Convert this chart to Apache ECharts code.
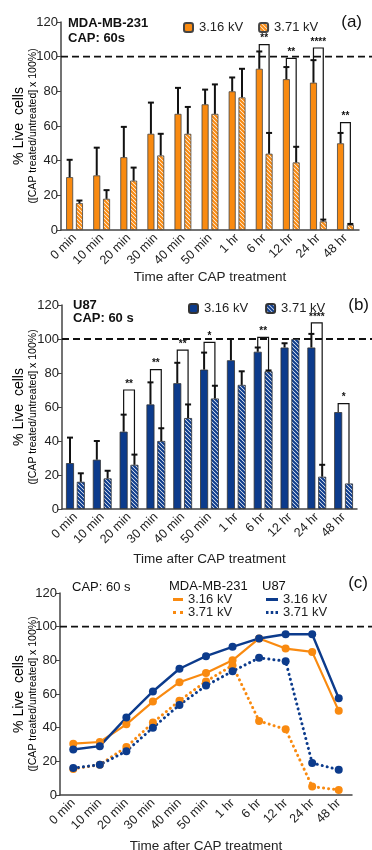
<!DOCTYPE html>
<html lang="en">
<head>
    <meta charset="UTF-8">
    <title>CAP live cells</title>
    <script src="https://cdn.jsdelivr.net/npm/echarts@6/dist/echarts.min.js"></script>
</head>
<body style="margin:0;background:#fff">
<div id="chart" style="width:372px;height:850px"></div>
<script>
    // time points
    var cats = ['0 min', '10 min', '20 min', '30 min', '40 min', '50 min', '1 hr', '6 hr', '12 hr', '24 hr', '48 hr'];
    var yTicks = [0, 20, 40, 60, 80, 100, 120];

    // (a) MDA-MB-231 bars, mean and sd
    var mdaLow = [30.5, 31.5, 42, 55.5, 67, 72.5, 80, 93, 87, 85, 50];
    var mdaLowSd = [10, 16, 17.5, 18, 15, 8.5, 8, 10, 7, 13, 6];
    var mdaHigh = [15.5, 18, 28.5, 43, 55.5, 67, 76.5, 44, 39, 5, 3];
    var mdaHighSd = [1.5, 5, 7.5, 12.5, 15.5, 17, 16.5, 12, 9, 1, 0.5];
    // [category, bracket height, stars]
    var sigA = [[7, 107, '**'], [8, 99, '**'], [9, 105, '****'], [10, 62, '**']];

    // (b) U87 bars
    var u87Low = [27, 29, 45.5, 61.5, 74, 82, 87.5, 92.5, 95, 95, 57];
    var u87LowSd = [15, 11, 10, 13, 12, 10, 12.5, 2.5, 2.5, 8, 0];
    var u87High = [16, 18, 26, 40, 53.5, 65, 73, 81, 100, 19, 15];
    var u87HighSd = [5, 4.5, 6, 7.5, 8, 7.5, 8, 0.5, 0, 7, 0];
    var sigB = [[2, 70, '**'], [3, 82, '**'], [4, 93.5, '**'], [5, 98, '*'], [7, 101, '**'], [9, 109.5, '****'], [10, 62, '*']];

    // (c) lines
    var lineMdaLow = [30.5, 31.5, 42, 55.5, 67, 72.5, 80, 93, 87, 85, 50];
    var lineMdaHigh = [15.5, 18, 28.5, 43, 56, 67.5, 77, 44, 39, 5, 3];
    var lineU87Low = [27, 29, 46, 61.5, 75, 82.5, 88, 93, 95.5, 95.5, 57.5];
    var lineU87High = [16, 18, 26, 40, 53.5, 65, 73.5, 81.5, 79.5, 19, 15];

    var FONT = '"Liberation Sans", Arial, sans-serif';
    var ORANGE = '#F98A10';
    var BLUE = '#0C3B8C';
    var INK = '#222';
    var names = {a316: '3.16 kV', a371: '3.71 kV', b316: '3.16 kV', b371: '3.71 kV',
        cm316: '3.16 kV', cm371: '3.71 kV', cu316: '3.16 kV', cu371: '3.71 kV'};

    function hatch(base) {
        var c = document.createElement('canvas');
        c.width = 4; c.height = 4;
        var g = c.getContext('2d');
        g.fillStyle = '#fff';
        g.fillRect(0, 0, 4, 4);
        g.strokeStyle = base;
        g.lineWidth = 2.1;
        g.beginPath();
        g.moveTo(-1, -1); g.lineTo(5, 5);
        g.moveTo(-1, 3); g.lineTo(1, 5);
        g.moveTo(3, -1); g.lineTo(5, 1);
        g.stroke();
        return {image: c, repeat: 'repeat'};
    }

    function xAx(gi, gap) {
        return {
            type: 'category', gridIndex: gi, data: cats,
            name: 'Time after CAP treatment', nameLocation: 'middle', nameGap: gap,
            nameTextStyle: {fontFamily: FONT, fontSize: 13.5, color: INK},
            axisLine: {lineStyle: {color: '#444', width: 1.5}},
            axisTick: {alignWithLabel: true, length: 3, lineStyle: {color: '#444'}},
            axisLabel: {interval: 0, rotate: 45, margin: 6, fontFamily: FONT, fontSize: 12.5, color: INK},
            splitLine: {show: false}
        };
    }

    function yAx(gi) {
        return {
            type: 'value', gridIndex: gi, min: 0, max: 120, interval: 20,
            axisLine: {show: true, lineStyle: {color: '#444', width: 1.5}},
            axisTick: {show: true, length: 4, lineStyle: {color: '#444'}},
            axisLabel: {margin: 3, fontFamily: FONT, fontSize: 13, color: INK,
                formatter: function (v) { return yTicks.indexOf(v) >= 0 ? v : ''; }},
            splitLine: {show: false}
        };
    }

    function refLine(gi) {
        return {
            type: 'custom', xAxisIndex: gi, yAxisIndex: gi, silent: true, clip: false, z: 1,
            data: [[0, 100]],
            renderItem: function (params, api) {
                var p = api.coord([0, api.value(1)]);
                return {type: 'line', shape: {x1: params.coordSys.x, y1: p[1], x2: api.getWidth(), y2: p[1]},
                    style: {stroke: '#111', lineWidth: 1.8, lineDash: [7, 4]}};
            }
        };
    }

    function errBars(gi, vals, sds, off) {
        return {
            type: 'custom', xAxisIndex: gi, yAxisIndex: gi, silent: true, z: 5,
            data: vals.map(function (v, i) { return [i, v, sds[i]]; }),
            renderItem: function (params, api) {
                var sd = api.value(2);
                if (!sd) return {type: 'group', children: []};
                var p0 = api.coord([api.value(0), api.value(1)]);
                var p1 = api.coord([api.value(0), api.value(1) + sd]);
                var x = p0[0] + off;
                var st = {stroke: '#111', lineWidth: 2};
                return {type: 'group', children: [
                    {type: 'line', shape: {x1: x, y1: p0[1], x2: x, y2: p1[1]}, style: st},
                    {type: 'line', shape: {x1: x - 3, y1: p1[1], x2: x + 3, y2: p1[1]}, style: st}
                ]};
            }
        };
    }

    function brackets(gi, sig, lo, loSd, hi, hiSd, off) {
        return {
            type: 'custom', xAxisIndex: gi, yAxisIndex: gi, silent: true, clip: false, z: 6,
            data: sig.map(function (s) { return [s[0], s[1]]; }),
            renderItem: function (params, api) {
                var s = sig[params.dataIndex];
                var c = s[0];
                var top = api.coord([c, s[1]]);
                var pl = api.coord([c, lo[c] + loSd[c]]);
                var pr = api.coord([c, hi[c] + hiSd[c]]);
                var xl = top[0] - off, xr = top[0] + off;
                return {type: 'group', children: [
                    {type: 'polyline', shape: {points: [[xl, pl[1]], [xl, top[1]], [xr, top[1]], [xr, pr[1]]]},
                        style: {stroke: '#111', lineWidth: 1.2, fill: null}},
                    {type: 'text', style: {text: s[2], x: top[0], y: top[1] - 1, align: 'center',
                        verticalAlign: 'bottom', font: 'bold 10px ' + FONT, fill: '#111'}}
                ]};
            }
        };
    }

    function yName(cy) {
        return {
            type: 'text', x: 26, y: cy, rotation: Math.PI / 2,
            style: {
                text: '{a|% Live  cells}\n{b|([CAP treated/untreated] x 100%)}',
                align: 'center', verticalAlign: 'middle',
                rich: {
                    a: {fontFamily: FONT, fontSize: 14, color: INK, lineHeight: 14, align: 'center'},
                    b: {fontFamily: FONT, fontSize: 10.5, color: INK, lineHeight: 13, align: 'center'}
                }
            }
        };
    }

    function label(x, y, text, size, weight, align) {
        return {type: 'text', x: x, y: y,
            style: {text: text, font: (weight || 'normal') + ' ' + size + 'px ' + FONT, fill: '#111',
                align: align || 'left', verticalAlign: 'middle'}};
    }

    function makeChart(divID) {
        var myChart = echarts.init(document.getElementById(divID));
        var offA = (7 + 7 * 0.4) / 2;
        var offB = (8 + 8 * 0.35) / 2;

        var option = {
            animation: false,
            textStyle: {fontFamily: FONT},
            grid: [
                {left: 61, width: 298, top: 22, height: 208, containLabel: false, outerBoundsMode: 'none'},
                {left: 62, width: 295, top: 305, height: 204, containLabel: false, outerBoundsMode: 'none'},
                {left: 60, width: 292, top: 593, height: 202, containLabel: false, outerBoundsMode: 'none'}
            ],
            xAxis: [xAx(0, 40), xAx(1, 43), xAx(2, 44)],
            yAxis: [yAx(0), yAx(1), yAx(2)],
            legend: [
                {data: ['a316', 'a371'], left: 178, top: 16, itemWidth: 9, itemHeight: 9, itemGap: 15,
                    formatter: function (n) { return names[n]; },
                    textStyle: {fontFamily: FONT, fontSize: 13, color: INK, padding: [0, 0, 0, 1]}},
                {data: ['b316', 'b371'], left: 183, top: 297, itemWidth: 9, itemHeight: 9, itemGap: 17,
                    formatter: function (n) { return names[n]; },
                    textStyle: {fontFamily: FONT, fontSize: 13, color: INK, padding: [0, 0, 0, 1]}},
                {orient: 'vertical', left: 168, top: 588, itemWidth: 10, itemHeight: 3, itemGap: 0,
                    data: [{name: 'cm316', icon: 'path://M0,0h10v3h-10z'},
                        {name: 'cm371', icon: 'path://M0,0h3v3h-3zM7,0h3v3h-3z'}],
                    formatter: function (n) { return names[n]; },
                    textStyle: {fontFamily: FONT, fontSize: 13, color: INK, lineHeight: 13}},
                {orient: 'vertical', left: 261, top: 588, itemWidth: 12, itemHeight: 3, itemGap: 0,
                    data: [{name: 'cu316', icon: 'path://M0,0h12v3h-12z'},
                        {name: 'cu371', icon: 'path://M0,0h2.5v3h-2.5zM4.75,0h2.5v3h-2.5zM9.5,0h2.5v3h-2.5z'}],
                    formatter: function (n) { return names[n]; },
                    textStyle: {fontFamily: FONT, fontSize: 13, color: INK, lineHeight: 13}}
            ],
            graphic: [
                yName(126), yName(407), yName(694),
                label(68, 23, 'MDA-MB-231', 13, 'bold'),
                label(68, 38, 'CAP: 60s', 13, 'bold'),
                label(362, 22, '(a)', 17, 'normal', 'right'),
                label(73, 305, 'U87', 13, 'bold'),
                label(73, 318, 'CAP: 60 s', 13, 'bold'),
                label(369, 305, '(b)', 17, 'normal', 'right'),
                label(72, 587, 'CAP: 60 s', 13),
                label(169, 586, 'MDA-MB-231', 13),
                label(262, 586, 'U87', 13),
                label(368, 583, '(c)', 17, 'normal', 'right')
            ],
            series: [
                refLine(0), refLine(1), refLine(2),
                {name: 'a316', type: 'bar', xAxisIndex: 0, yAxisIndex: 0, data: mdaLow, barWidth: 7, barGap: '40%',
                    itemStyle: {color: ORANGE, borderColor: '#444', borderWidth: 0.8}},
                {name: 'a371', type: 'bar', xAxisIndex: 0, yAxisIndex: 0, data: mdaHigh, barWidth: 7, barGap: '40%',
                    itemStyle: {color: hatch(ORANGE), borderColor: '#444', borderWidth: 0.8}},
                errBars(0, mdaLow, mdaLowSd, -offA),
                errBars(0, mdaHigh, mdaHighSd, offA),
                brackets(0, sigA, mdaLow, mdaLowSd, mdaHigh, mdaHighSd, offA),

                {name: 'b316', type: 'bar', xAxisIndex: 1, yAxisIndex: 1, data: u87Low, barWidth: 8, barGap: '35%',
                    itemStyle: {color: BLUE, borderColor: '#333', borderWidth: 0.8}},
                {name: 'b371', type: 'bar', xAxisIndex: 1, yAxisIndex: 1, data: u87High, barWidth: 8, barGap: '35%',
                    itemStyle: {color: hatch(BLUE), borderColor: '#333', borderWidth: 0.8}},
                errBars(1, u87Low, u87LowSd, -offB),
                errBars(1, u87High, u87HighSd, offB),
                brackets(1, sigB, u87Low, u87LowSd, u87High, u87HighSd, offB),

                {name: 'cm316', type: 'line', xAxisIndex: 2, yAxisIndex: 2, data: lineMdaLow,
                    symbol: 'circle', symbolSize: 8, color: ORANGE, lineStyle: {width: 2.2, color: ORANGE}},
                {name: 'cm371', type: 'line', xAxisIndex: 2, yAxisIndex: 2, data: lineMdaHigh,
                    symbol: 'circle', symbolSize: 8, color: ORANGE,
                    lineStyle: {width: 3, color: ORANGE, type: [0.1, 5], cap: 'round'}},
                {name: 'cu316', type: 'line', xAxisIndex: 2, yAxisIndex: 2, data: lineU87Low,
                    symbol: 'circle', symbolSize: 8, color: BLUE, lineStyle: {width: 2.4, color: BLUE}},
                {name: 'cu371', type: 'line', xAxisIndex: 2, yAxisIndex: 2, data: lineU87High,
                    symbol: 'circle', symbolSize: 8, color: BLUE,
                    lineStyle: {width: 3, color: BLUE, type: [0.1, 5], cap: 'round'}}
            ]
        };
        myChart.setOption(option);
    }
    makeChart('chart');
</script>
</body>
</html>
